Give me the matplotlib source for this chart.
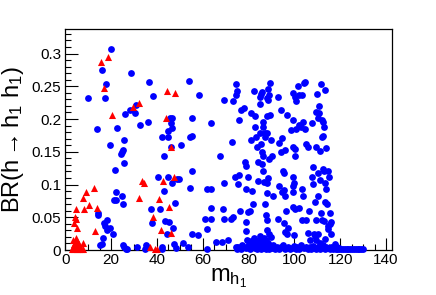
import matplotlib
matplotlib.use('Agg')
import matplotlib.pyplot as plt
from matplotlib.ticker import MultipleLocator, FixedLocator
import numpy as np

plt.rcParams['font.family'] = ['Liberation Sans', 'DejaVu Sans']
plt.rcParams['mathtext.fontset'] = 'custom'
plt.rcParams['mathtext.rm'] = 'Liberation Sans'
plt.rcParams['mathtext.it'] = 'Liberation Sans'

# blue points (scanned sample, h1 -> bb etc.)
blue_x = [19.8, 15.9, 17.6, 17.5, 9.8, 13.7, 19.4, 21.7, 22.4, 28.8, 26.2, 28.0, 30.4, 30.9,
          32.6, 36.0, 36.5, 38.4, 25.6, 25.3, 24.7, 24.3, 25.6, 22.2, 21.4, 22.2, 24.7, 25.0,
          14.4, 14.1, 18.0, 16.9, 17.3, 19.5, 18.0, 21.0, 16.3, 15.9, 15.3, 25.3, 25.8, 26.5,
          27.1, 5.2, 31.4, 35.2, 35.5, 34.9, 37.3, 37.7, 40.6, 42.3, 43.1, 43.1, 41.3, 43.4,
          42.1, 42.3, 44.2, 44.9, 45.0, 45.7, 46.7, 46.3, 46.7, 46.0, 45.0, 46.7, 48.0, 45.1,
          47.2, 47.3, 48.3, 48.9, 49.6, 50.6, 51.2, 53.4, 54.1, 54.4, 55.3, 55.3, 55.4, 54.4,
          55.2, 58.1, 58.2, 61.1, 62.0, 61.7, 62.0, 63.6, 63.5, 63.7, 63.7, 65.9, 67.4, 68.4,
          69.3, 69.4, 69.0, 69.1, 71.0, 72.2, 72.8, 73.0, 73.4, 74.4, 74.7, 75.1, 74.1, 75.3,
          75.8, 76.0, 76.6, 78.0, 76.3, 74.7, 74.9, 78.5, 78.9, 79.6, 78.7, 78.9, 78.9, 79.2,
          78.7, 79.9, 80.6, 80.9, 82.3, 81.2, 81.4, 82.1, 82.8, 83.0, 83.3, 83.6, 83.9, 84.3,
          85.0, 85.4, 85.9, 85.0, 85.0, 85.4, 85.7, 86.5, 86.5, 85.9, 86.2, 86.3, 86.7, 87.9,
          88.1, 88.5, 88.6, 89.4, 89.1, 89.4, 89.7, 88.8, 90.2, 87.2, 87.9, 87.3, 87.9, 88.5,
          87.9, 87.2, 87.5, 87.9, 88.2, 89.1, 90.8, 92.7, 94.2, 93.2, 94.7, 94.1, 95.9, 95.2,
          95.6, 96.7, 93.2, 94.6, 95.5, 95.9, 96.2, 95.5, 92.9, 96.0, 96.9, 97.4, 98.4, 99.3,
          99.5, 99.5, 100.3, 100.1, 99.5, 99.8, 99.4, 99.4, 99.5, 100.3, 99.8, 100.4, 100.6,
          101.4, 102.0, 100.9, 102.2, 102.9, 103.9, 104.2, 104.7, 103.2, 105.1, 106.1, 104.7,
          101.9, 103.3, 103.6, 103.1, 105.1, 106.5, 106.1, 106.8, 107.6, 108.3, 107.7, 108.3,
          109.0, 109.3, 108.7, 109.0, 109.5, 109.7, 109.5, 110.5, 110.8, 110.9, 111.2, 111.6,
          111.9, 112.6, 111.9, 112.6, 112.9, 113.7, 113.4, 110.5, 112.4, 112.9, 111.2, 110.5,
          113.4, 113.8, 113.4, 114.4, 114.8, 115.1, 115.6, 111.5, 111.9, 112.9, 114.8, 115.6,
          116.0, 114.8, 116.0, 110.5, 109.5, 111.2, 113.4]
blue_y = [0.307, 0.275, 0.253, 0.232, 0.232, 0.185, 0.161, 0.122, 0.186, 0.270, 0.207, 0.214,
          0.209, 0.222, 0.191, 0.195, 0.256, 0.235, 0.168, 0.153, 0.150, 0.146, 0.133, 0.088,
          0.076, 0.076, 0.082, 0.070, 0.056, 0.054, 0.046, 0.042, 0.037, 0.034, 0.031, 0.025,
          0.018, 0.009, 0.007, 0.008, 0.004, 0.001, 0.001, 0.001, 0.005, 0.007, 0.004, 0.001,
          0.063, 0.042, 0.112, 0.173, 0.144, 0.090, 0.062, 0.045, 0.005, 0.001, 0.025, 0.181,
          0.172, 0.201, 0.201, 0.194, 0.187, 0.157, 0.112, 0.103, 0.072, 0.043, 0.034, 0.009,
          0.003, 0.109, 0.109, 0.161, 0.011, 0.004, 0.258, 0.173, 0.174, 0.201, 0.121, 0.094,
          0.025, 0.023, 0.237, 0.048, 0.032, 0.001, 0.093, 0.093, 0.194, 0.064, 0.048, 0.012,
          0.143, 0.012, 0.102, 0.229, 0.062, 0.048, 0.015, 0.048, 0.165, 0.227, 0.050, 0.253,
          0.236, 0.242, 0.111, 0.101, 0.114, 0.198, 0.214, 0.217, 0.060, 0.004, 0.001, 0.135,
          0.129, 0.111, 0.093, 0.043, 0.029, 0.015, 0.004, 0.058, 0.060, 0.209, 0.242, 0.168,
          0.090, 0.070, 0.188, 0.204, 0.173, 0.158, 0.135, 0.105, 0.234, 0.238, 0.241, 0.223,
          0.179, 0.162, 0.131, 0.196, 0.188, 0.150, 0.143, 0.121, 0.104, 0.204, 0.232, 0.246,
          0.229, 0.255, 0.236, 0.206, 0.168, 0.139, 0.143, 0.178, 0.179, 0.172, 0.102, 0.110,
          0.087, 0.070, 0.053, 0.046, 0.031, 0.025, 0.082, 0.234, 0.214, 0.164, 0.171, 0.150,
          0.152, 0.121, 0.118, 0.206, 0.097, 0.088, 0.092, 0.083, 0.059, 0.042, 0.048, 0.028,
          0.025, 0.034, 0.183, 0.239, 0.198, 0.158, 0.154, 0.144, 0.111, 0.103, 0.097, 0.088,
          0.066, 0.062, 0.023, 0.233, 0.228, 0.250, 0.236, 0.184, 0.191, 0.188, 0.196, 0.255,
          0.257, 0.237, 0.162, 0.157, 0.184, 0.064, 0.093, 0.083, 0.046, 0.046, 0.060, 0.026,
          0.016, 0.194, 0.127, 0.112, 0.101, 0.073, 0.046, 0.025, 0.022, 0.157, 0.238, 0.210,
          0.201, 0.220, 0.209, 0.151, 0.253, 0.173, 0.174, 0.199, 0.196, 0.188, 0.155, 0.245,
          0.117, 0.124, 0.120, 0.107, 0.082, 0.103, 0.093, 0.074, 0.071, 0.120, 0.112, 0.056,
          0.056, 0.046, 0.044, 0.036, 0.040, 0.043, 0.032, 0.025, 0.025, 0.016, 0.010, 0.017]

# blue points piled up near BR = 0
blue_low_x = [75.5, 76.5, 77.2, 79.0, 80.1, 80.8, 81.5, 82.0, 82.6, 83.1, 83.7, 84.2, 84.8,
              85.3, 85.7, 86.2, 86.6, 87.1, 87.5, 88.0, 88.4, 88.9, 89.3, 90.0, 90.8, 91.5,
              92.3, 93.4, 94.2, 95.0, 96.0, 97.2, 98.0, 98.8, 99.7, 100.5, 101.3, 102.2,
              103.0, 104.0, 105.0, 105.8, 106.6, 107.3, 108.0, 108.8, 109.5, 110.3, 111.0,
              111.8, 112.5, 113.2, 114.0, 114.7, 115.4, 116.1, 116.8, 117.5, 118.2,
              81.0, 82.3, 83.4, 84.5, 85.0, 85.9, 86.8, 87.7, 88.6, 89.8,
              117.7, 118.5, 119.6]
blue_low_y = [0.004, 0.002, 0.007, 0.003, 0.009, 0.002, 0.005, 0.011, 0.003, 0.007, 0.002,
              0.009, 0.004, 0.001, 0.006, 0.010, 0.003, 0.007, 0.002, 0.005, 0.009, 0.001,
              0.006, 0.003, 0.008, 0.002, 0.005, 0.001, 0.004, 0.007, 0.002, 0.005, 0.001,
              0.003, 0.006, 0.002, 0.004, 0.001, 0.007, 0.003, 0.005, 0.001, 0.004, 0.002,
              0.006, 0.003, 0.001, 0.005, 0.002, 0.004, 0.007, 0.002, 0.005, 0.003, 0.001,
              0.004, 0.002, 0.003, 0.001,
              0.014, 0.019, 0.012, 0.016, 0.022, 0.013, 0.018, 0.015, 0.011, 0.020,
              0.009, 0.005, 0.003]
blue_tail_x = [118.8, 119.6, 120.4, 121.2, 122.0, 122.8, 123.6, 124.4, 125.2, 126.0, 126.8,
               127.6, 128.4, 129.2, 130.0]
blue_tail_y = [0.002, 0.001, 0.002, 0.001, 0.001, 0.001, 0.001, 0.001, 0.001, 0.001, 0.001,
               0.001, 0.001, 0.001, 0.001]

# red triangles
red_x = [15.6, 18.5, 16.7, 20.5, 29.4, 32.3, 44.2, 48.0, 44.0, 46.3, 47.3, 33.5, 34.3, 42.5,
         32.3, 40.9, 38.1, 45.1, 41.9, 46.1, 36.8, 39.3, 39.9, 12.7, 8.9, 7.7, 10.2, 8.1, 13.8,
         13.0, 4.5, 4.2, 4.7, 3.8, 4.9, 3.3, 4.7, 5.2, 6.1, 7.6,
         3.0, 3.4, 3.8, 4.1, 4.5, 4.9, 5.3, 5.8, 6.4, 7.0, 7.9, 3.6, 4.3]
red_y = [0.287, 0.295, 0.247, 0.206, 0.218, 0.224, 0.243, 0.239, 0.202, 0.157, 0.111, 0.105,
         0.103, 0.106, 0.080, 0.078, 0.050, 0.065, 0.031, 0.026, 0.005, 0.001, 0.002, 0.095,
         0.089, 0.080, 0.069, 0.062, 0.064, 0.029, 0.062, 0.051, 0.048, 0.042, 0.033, 0.016,
         0.019, 0.013, 0.009, 0.010,
         0.001, 0.004, 0.002, 0.007, 0.003, 0.001, 0.005, 0.002, 0.004, 0.001, 0.001, 0.009, 0.011]

y_ticks = [0, 0.05, 0.1, 0.15, 0.2, 0.25, 0.3]
y_labels = ['0', '0.05', '0.1', '0.15', '0.2', '0.25', '0.3']

fig = plt.figure(figsize=(4.36, 2.95), dpi=100)
ax = fig.add_axes([0.150, 0.1525, 0.749, 0.7505])

ax.scatter(blue_x + blue_low_x + blue_tail_x, blue_y + blue_low_y + blue_tail_y,
           s=24, marker='o', color='#0000ff', linewidths=0, clip_on=False, zorder=3)
ax.scatter(red_x, red_y, s=26, marker='^', color='#ff0000', linewidths=0, clip_on=False, zorder=4)

ax.set_xlim(0, 142.6)
ax.set_ylim(0, 0.338)
ax.xaxis.set_major_locator(MultipleLocator(20))
ax.xaxis.set_minor_locator(MultipleLocator(5))
ax.yaxis.set_major_locator(FixedLocator(y_ticks))
ax.set_yticklabels(y_labels)
ax.yaxis.set_minor_locator(MultipleLocator(0.01))

ax.tick_params(which='both', direction='in', top=False, right=False, labelsize=11, width=0.8)
ax.tick_params(which='major', length=9)
ax.tick_params(which='minor', length=4.5)
ax.tick_params(axis='x', pad=2)
ax.tick_params(axis='y', pad=3)
for sp in ax.spines.values():
    sp.set_linewidth(0.9)

ax.set_xlabel(r'm$_{\mathregular{h_1}}$', fontsize=17, labelpad=0)
ax.set_ylabel(r'BR(h$\rightarrow$h$_{\mathregular{1}}$ h$_{\mathregular{1}}$)', fontsize=17, labelpad=4)

fig.savefig('out.png', dpi=100)
